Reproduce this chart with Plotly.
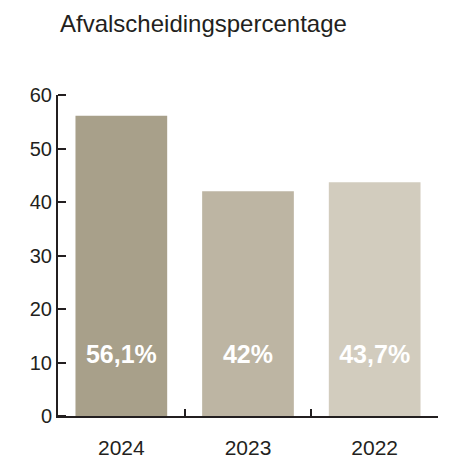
import plotly.graph_objects as go

years = ["2024", "2023", "2022"]
values = [56.1, 42.0, 43.7]
labels = ["56,1%", "42%", "43,7%"]
colors = ["#A8A08A", "#BDB5A3", "#D2CCBE"]
label_y = 11.1
y_ticks = [0, 10, 20, 30, 40, 50, 60]
y_range = [0, 60]

W, H = 468, 460
ML, MR, MT, MB = 58, 30, 95, 44
TICKLEN = 8

fig = go.Figure()
fig.add_trace(go.Bar(x=years, y=values, marker=dict(color=colors, line=dict(width=0)),
                     hoverinfo="skip"))
fig.add_trace(go.Scatter(x=years, y=[label_y]*len(years), mode="text", text=labels,
                         yaxis="y2",
                         textfont=dict(family="Liberation Sans, Arial", size=25, color="white",
                                       weight="bold"),
                         hoverinfo="skip"))

fig.update_layout(
    width=W, height=H,
    margin=dict(l=ML, r=MR, t=MT, b=MB, autoexpand=False),
    paper_bgcolor="white", plot_bgcolor="white",
    showlegend=False, bargap=0.276,
    font=dict(family="Liberation Sans, Arial", color="#231F20"),
    title=dict(text="Afvalscheidingspercentage", x=60/W, xanchor="left", xref="container",
               y=1-24/H, yanchor="middle", yref="container",
               font=dict(size=24, color="#231F20")),
    xaxis=dict(type="category", showline=True, linecolor="#231F20", linewidth=2,
               ticks="inside", tickson="boundaries", ticklen=7, tickwidth=2, tickcolor="#231F20",
               tickfont=dict(size=21), showgrid=False, zeroline=False, ticklabelstandoff=12,
               automargin=False),
    yaxis=dict(range=y_range, tickmode="array", tickvals=y_ticks,
               showline=True, linecolor="#231F20", linewidth=2, ticks="",
               tickfont=dict(size=20), showgrid=False, zeroline=False, automargin=False),
    yaxis2=dict(overlaying="y", side="left", anchor="free",
                position=TICKLEN/(W-ML-MR), range=y_range,
                tickmode="array", tickvals=y_ticks, ticks="outside", ticklen=TICKLEN, tickwidth=2,
                tickcolor="#231F20", showticklabels=False, showline=False, showgrid=False,
                zeroline=False, automargin=False),
)

fig.write_html("out.html", config={"displayModeBar": False},
               post_script="document.body.style.margin='0';")
